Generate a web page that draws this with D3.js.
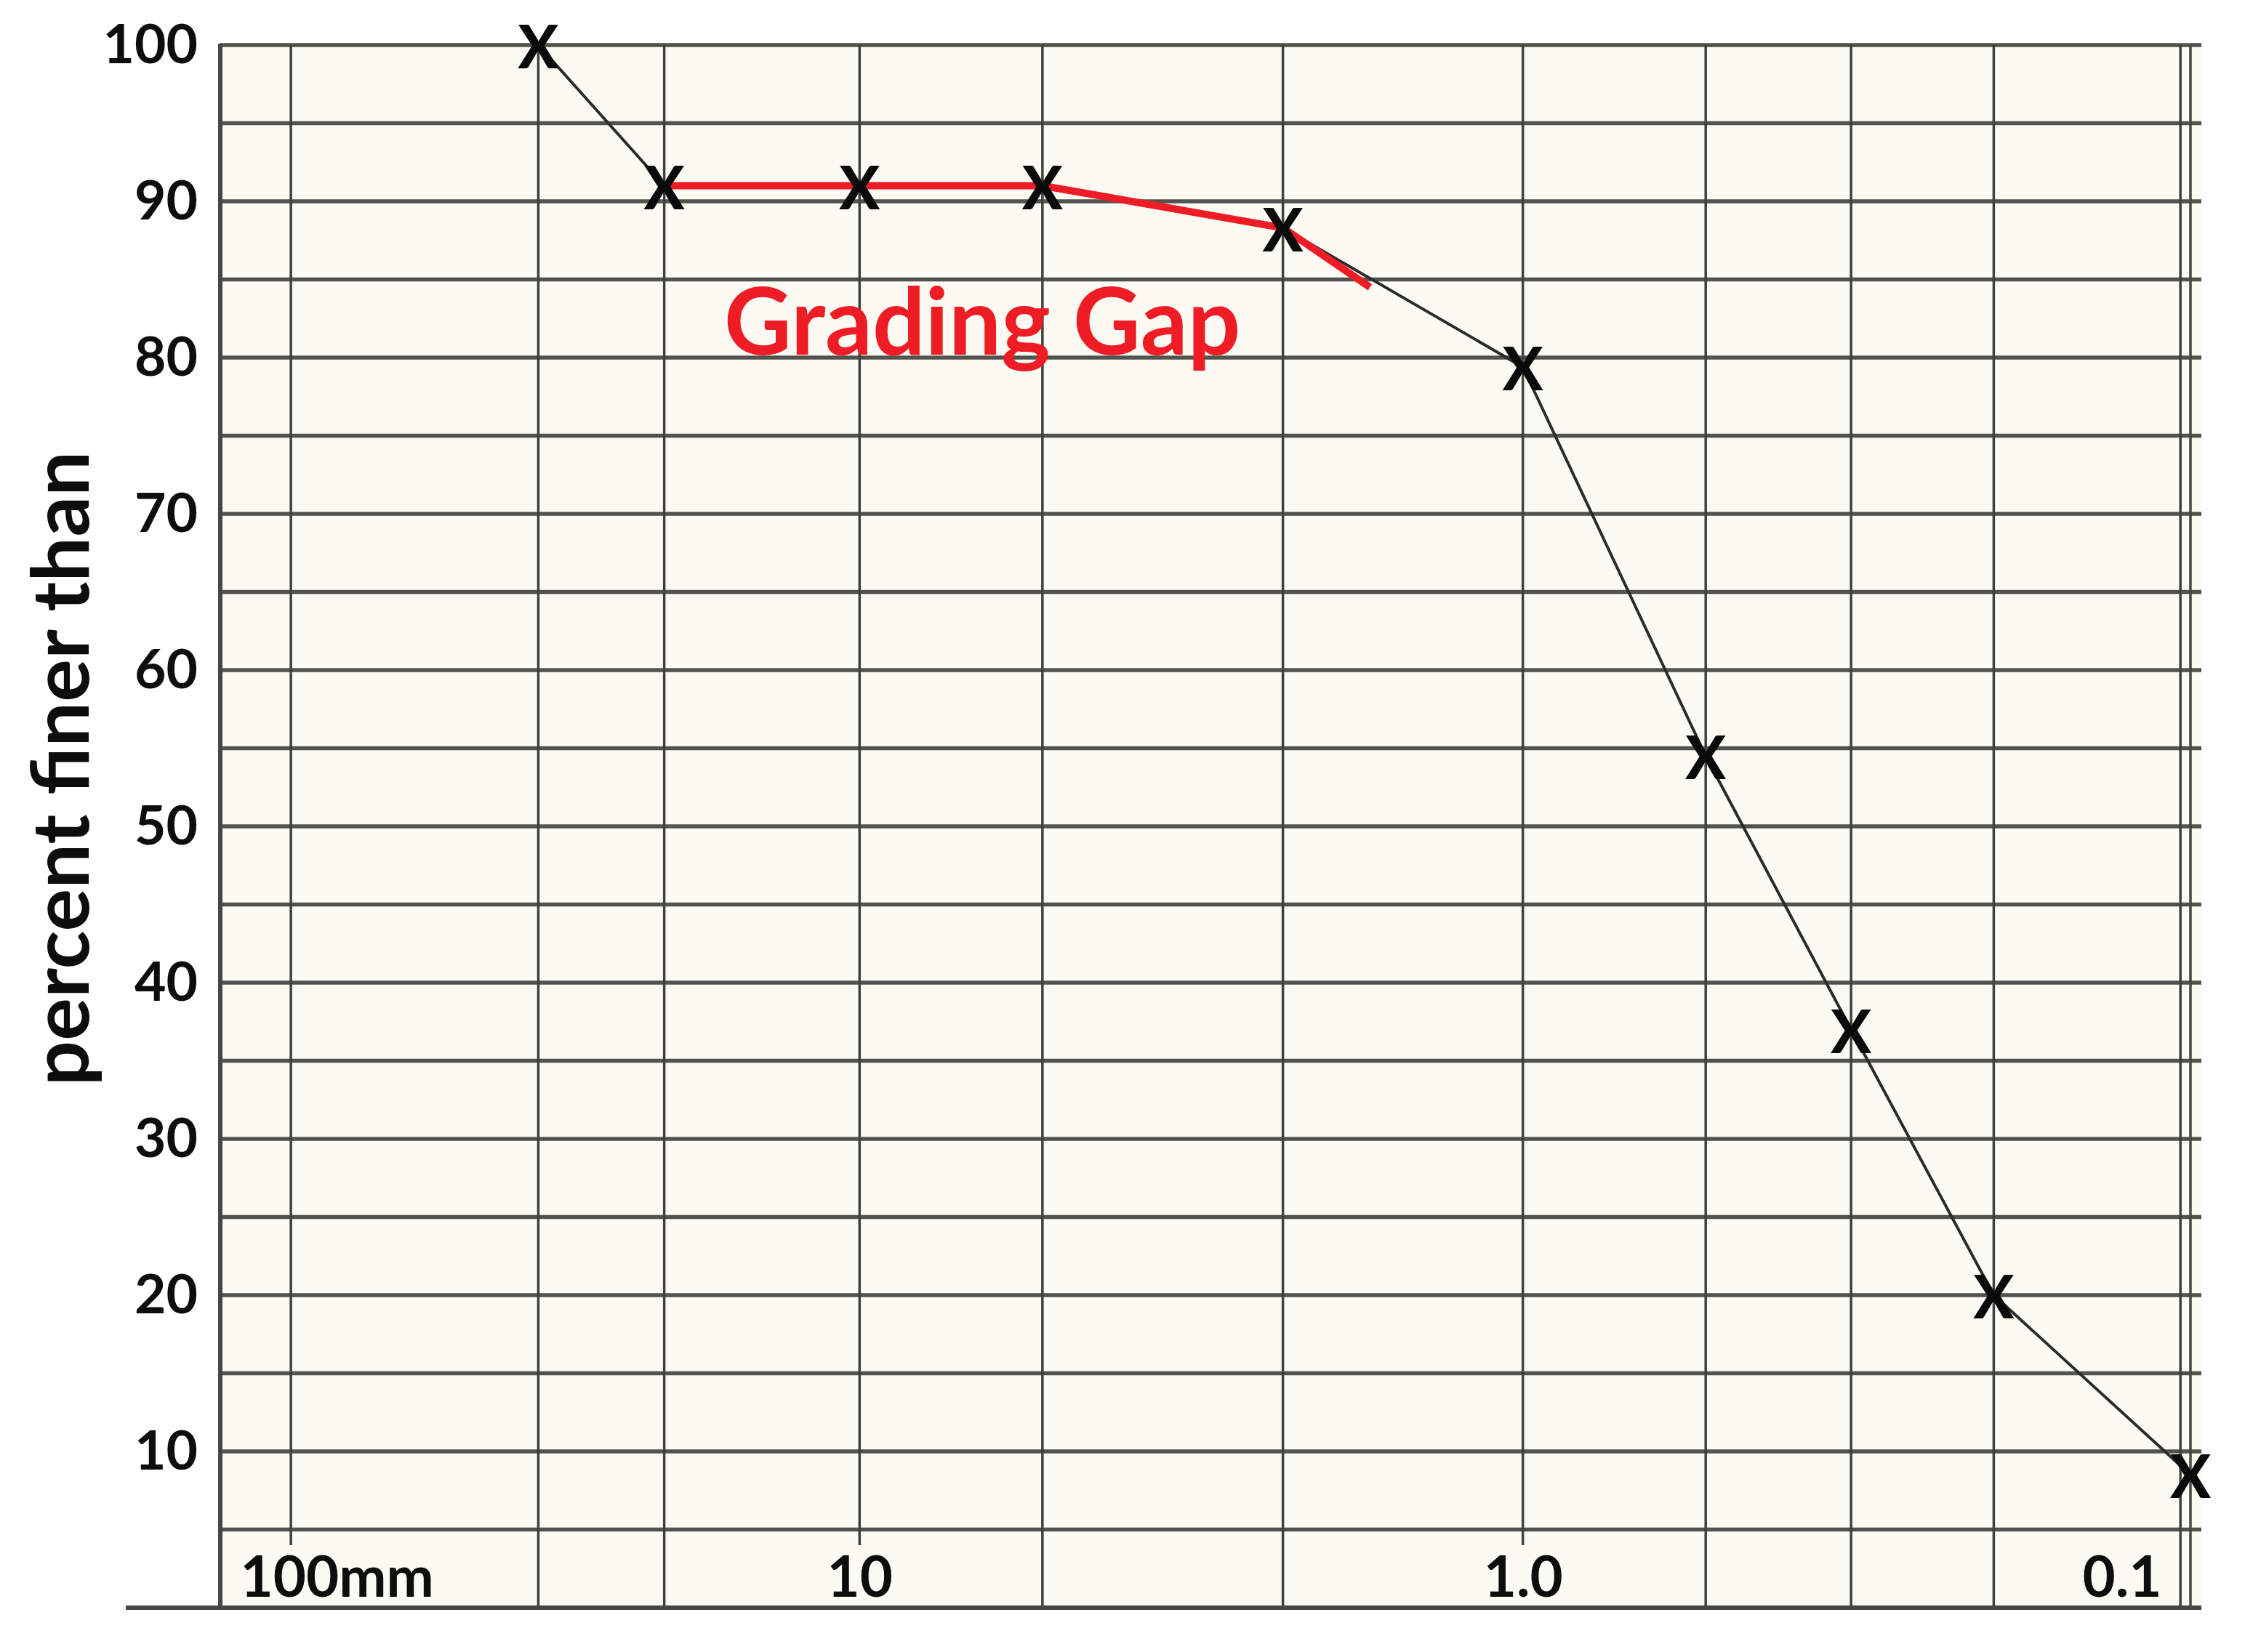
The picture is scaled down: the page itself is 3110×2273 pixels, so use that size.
<!DOCTYPE html>
<html>
<head>
<meta charset="utf-8">
<script src="https://cdn.jsdelivr.net/npm/d3@7/dist/d3.min.js"></script>
<style>
  body { margin: 0; background: #ffffff; }
  #chart text { font-family: Lato, "Open Sans", sans-serif; font-weight: bold; }
</style>
</head>
<body>
<div id="chart"></div>
<script>
// sieve sizes (mm) of the printed vertical grid lines
let sieveSizes = [72, 30.5, 19.7, 10, 5.3, 2.3, 1.0, 0.53, 0.32, 0.195, 0.102];
// edges of the sheet, in mm
let sizeExtent = [92, 0.0985];

// the sample: sieve size of each X and its percent finer
let sampleSizes = [30.5, 19.7, 10, 5.3, 2.3, 1.0, 0.53, 0.32, 0.195, 0.0985];
let percentFiner = [100, 91, 91, 91, 88.3, 79.4, 54.5, 37, 20, 8.5];

// part of the curve marked in red as the grading gap
let gapSizes = [19.7, 10, 5.3, 2.3, 1.7];
let gapPercent = [91, 91, 91, 88.3, 84.5];

let percentTicks = [10, 20, 30, 40, 50, 60, 70, 80, 90, 100];
let percentGrid = [0, 5, 10, 15, 20, 25, 30, 35, 40, 45, 50, 55, 60, 65, 70, 75, 80, 85, 90, 95, 100];
let sizeTicks = [100, 10, 1, 0.1];
let sizeTickLabels = ["100mm", "10", "1.0", "0.1"];

class GradingChart {
  constructor () {
    this.width = 3110;
    this.height = 2273;
    this.plot = {left: 303, right: 3013, top: 62, bottom: 2212};
    this.svg = d3.select("#chart").append("svg")
        .attr("width", this.width)
        .attr("height", this.height);
  };

  update () {
    let p = this.plot;
    let svg = this.svg;

    let xscale = d3.scaleLog().domain(sizeExtent).range([p.left, p.right]);
    let yscale = d3.scaleLinear().domain([0, 100]).range([p.bottom, p.top]);

    let points = sampleSizes.map((s, i) => ({size: s, pct: percentFiner[i]}));
    let gap = gapSizes.map((s, i) => ({size: s, pct: gapPercent[i]}));

    // paper
    svg.append("rect")
        .attr("x", p.left).attr("y", p.top)
        .attr("width", p.right + 15 - p.left).attr("height", p.bottom - p.top)
        .style("fill", "#fbfbf3");

    // horizontal rulings every 5 %
    svg.append("g").attr("id", "hgrid")
        .selectAll("line").data(percentGrid).enter().append("line")
        .attr("x1", p.left)
        .attr("x2", p.right + 15)
        .attr("y1", d => yscale(d))
        .attr("y2", d => yscale(d))
        .style("stroke", "#52524e")
        .style("stroke-width", 5.5);

    let vgrid = svg.append("g").attr("id", "vgrid")
        .selectAll("line").data(sieveSizes).enter().append("line")
        .attr("x1", d => xscale(d))
        .attr("x2", d => xscale(d))
        .attr("y1", p.top)
        .attr("y2", p.bottom)
        .style("stroke", "#40403e")
        .style("stroke-width", 3.5);

    // frame
    let frame = svg.append("g").attr("id", "frame")
        .style("stroke", "#464643");
    frame.append("line")
        .attr("x1", p.left).attr("x2", p.left)
        .attr("y1", p.top - 2).attr("y2", p.bottom + 2)
        .style("stroke-width", 6);
    frame.append("line")
        .attr("x1", p.right).attr("x2", p.right)
        .attr("y1", p.top).attr("y2", p.bottom)
        .style("stroke-width", 3.5);
    frame.append("line")
        .attr("x1", p.left - 130).attr("x2", p.right + 15)
        .attr("y1", p.bottom).attr("y2", p.bottom)
        .style("stroke-width", 6);

    // y tick labels
    let yaxis = d3.axisLeft(yscale).tickValues(percentTicks).tickSize(0).tickPadding(31);
    let yaxisSel = svg.append("g").attr("id", "yAxis")
        .attr("transform", `translate(${p.left}, 0)`)
        .call(yaxis);
    yaxisSel.select(".domain").remove();
    yaxisSel.selectAll("text")
        .attr("font-family", null)
        .style("font-size", "75px")
        .style("fill", "#0d0d0d");

    // x tick labels sit just above the bottom line
    let xaxis = d3.axisBottom(xscale).tickValues(sizeTicks)
        .tickFormat((d, i) => sizeTickLabels[i]).tickSize(0);
    let xaxisSel = svg.append("g").attr("id", "xAxis")
        .attr("transform", `translate(0, ${p.bottom})`)
        .call(xaxis);
    xaxisSel.select(".domain").remove();
    xaxisSel.selectAll("text")
        .attr("font-family", null)
        .attr("y", -15)
        .attr("dy", 0)
        .style("font-size", "78px")
        .style("fill", "#0d0d0d");
    // labels that would run past the frame are pulled inside it
    xaxisSel.selectAll(".tick").each(function(d) {
      let t = d3.select(this).select("text");
      let half = this.querySelector("text").getComputedTextLength() / 2;
      if (xscale(d) - half < p.left) {
        t.attr("text-anchor", "start").attr("x", p.left + 27 - xscale(d));
      } else if (xscale(d) + half > p.right) {
        t.attr("text-anchor", "end").attr("x", p.right - 40 - xscale(d));
      }
    });

    // rulings that run into a size label stop above it
    let boxes = [];
    xaxisSel.selectAll("text").each(function() { boxes.push(this.getBoundingClientRect()); });
    vgrid.attr("y2", d => {
      let hit = boxes.some(b => xscale(d) > b.left - 10 && xscale(d) < b.right + 10);
      return hit ? yscale(4) : p.bottom;
    });

    // axis title
    svg.append("text")
        .attr("transform", `translate(122, ${yscale(53.7)}) rotate(-90)`)
        .attr("text-anchor", "middle")
        .style("font-size", "110px")
        .style("fill", "#0d0d0d")
        .text("percent finer than");

    // grading curve
    let line = d3.line().x(d => xscale(d.size)).y(d => yscale(d.pct));
    svg.append("path").datum(points)
        .attr("d", line)
        .style("fill", "none")
        .style("stroke", "#2b2b2b")
        .style("stroke-width", 4);

    svg.append("path").datum(gap)
        .attr("d", line)
        .style("fill", "none")
        .style("stroke", "#ee1c25")
        .style("stroke-width", 10)
        .style("stroke-linejoin", "round");

    svg.append("g").attr("id", "marks")
        .selectAll("text").data(points).enter().append("text")
        .attr("x", d => xscale(d.size))
        .attr("y", d => yscale(d.pct))
        .attr("text-anchor", "middle")
        .attr("dominant-baseline", "central")
        .style("font-size", "82px")
        .style("font-weight", 900)
        .style("fill", "#0a0a0a")
        .text("X");

    svg.append("text")
        .attr("x", xscale(16))
        .attr("y", yscale(80) - 4)
        .style("font-size", "128px")
        .style("fill", "#ee1c25")
        .text("Grading Gap");
  };
}

let chart = new GradingChart();
chart.update();
</script>
</body>
</html>
